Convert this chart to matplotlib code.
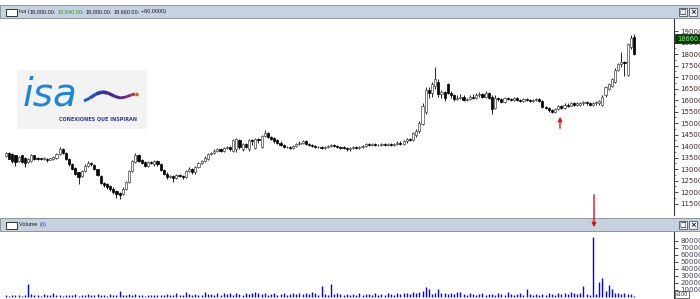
import matplotlib
matplotlib.use("Agg")
import matplotlib.pyplot as plt
from matplotlib.patches import Rectangle, FancyArrowPatch
from matplotlib.collections import LineCollection

# daily candles
opens = [13580, 13700, 13650, 13600, 13350, 13600, 13500, 13300, 13350, 13600,
         13500, 13460, 13420, 13450, 13400, 13420, 13500, 13650, 13880, 13700,
         13450, 13220, 13050, 12850, 12700, 12900, 13150, 13280, 13180, 13000,
         12700, 12400, 12350, 12250, 12150, 12050, 11950, 11900, 12150, 12450,
         12900, 13300, 13600, 13400, 13300, 13150, 13300, 13200, 13350, 13200,
         12950, 12800, 12650, 12700, 12600, 12750, 12700, 12650, 12900, 13000,
         12850, 13100, 13250, 13350, 13450, 13650, 13700, 13800, 13850, 13800,
         13900, 13950, 13800, 13850, 14250, 13850, 14100, 13850, 14250, 13900,
         14300, 13950, 14450, 14550, 14400, 14350, 14250, 14150, 14050, 13950,
         13950, 13900, 14000, 14100, 14150, 14200, 14100, 14050, 14000, 13950,
         13950, 13900, 13950, 14000, 14050, 14000, 13950, 13950, 13900, 13850,
         13900, 13950, 13900, 13950, 14000, 14100, 14050, 14100, 14050, 14050,
         14100, 14050, 14100, 14050, 14100, 14150, 14100, 14200, 14300, 14250,
         14500, 14650, 14950, 15500, 16450, 16300, 16600, 16800, 16250, 16350,
         16700, 16300, 16200, 16050, 16100, 16150, 16000, 16050, 16150, 16100,
         16200, 16250, 16150, 16300, 16150, 15650, 16100, 16050, 15900, 16100,
         16050, 16000, 16100, 16000, 15950, 16050, 16000, 15950, 16000, 16050,
         15950, 15700, 15650, 15550, 15500, 15600, 15750, 15650, 15800, 15750,
         15850, 15800, 15800, 15850, 15900, 15850, 15800, 15850, 15850, 15800,
         16200, 16500, 16600, 16800, 17300, 17550, 17650, 17100, 18300, 18750]

closes = [13680, 13450, 13350, 13300, 13520, 13300, 13250, 13450, 13600, 13450,
          13450, 13420, 13480, 13400, 13460, 13520, 13650, 13850, 13700, 13450,
          13200, 13000, 12800, 12650, 12900, 13150, 13250, 13200, 13000, 12750,
          12400, 12300, 12200, 12150, 12000, 11900, 11850, 12150, 12450, 12900,
          13350, 13600, 13350, 13250, 13150, 13300, 13250, 13350, 13200, 12950,
          12800, 12650, 12700, 12600, 12750, 12700, 12650, 12900, 13000, 12850,
          13100, 13250, 13350, 13500, 13650, 13700, 13800, 13850, 13800, 13900,
          13950, 13850, 14250, 14300, 13950, 14100, 13950, 14250, 14200, 14300,
          14250, 14450, 14550, 14400, 14300, 14200, 14150, 14050, 13950, 13950,
          13900, 14000, 14100, 14150, 14200, 14100, 14050, 14000, 13950, 13950,
          13900, 13950, 14000, 14050, 14000, 13950, 13900, 13900, 13850, 13900,
          13950, 13900, 13950, 14000, 14100, 14050, 14100, 14050, 14050, 14100,
          14050, 14100, 14050, 14100, 14150, 14100, 14200, 14300, 14250, 14550,
          14650, 15000, 15750, 16450, 16300, 16700, 16900, 16250, 16350, 16100,
          16300, 16200, 16050, 16100, 16150, 16000, 16050, 16150, 16100, 16200,
          16250, 16150, 16300, 16100, 15600, 16100, 16050, 15900, 16100, 16050,
          16000, 16100, 16000, 15950, 16050, 16000, 15950, 16000, 16050, 15950,
          15700, 15650, 15550, 15500, 15600, 15750, 15650, 15800, 15750, 15850,
          15800, 15850, 15850, 15900, 15850, 15800, 15850, 15900, 15950, 16150,
          16550, 16700, 16900, 17300, 17550, 17650, 17600, 18450, 18700, 18000]

highs = [13720, 13720, 13680, 13620, 13560, 13620, 13520, 13480, 13650, 13620,
         13520, 13480, 13520, 13480, 13500, 13560, 13700, 13950, 13900, 13720,
         13480, 13250, 13080, 12880, 12950, 13200, 13350, 13300, 13200, 13020,
         12750, 12450, 12400, 12300, 12200, 12100, 12000, 12200, 12500, 12950,
         13400, 13700, 13650, 13450, 13350, 13350, 13350, 13400, 13400, 13250,
         13000, 12850, 12750, 12750, 12800, 12800, 12750, 12950, 13100, 13050,
         13150, 13300, 13400, 13550, 13700, 13750, 13850, 13900, 13900, 13950,
         14000, 14000, 14300, 14350, 14300, 14150, 14150, 14300, 14300, 14350,
         14350, 14500, 14700, 14600, 14450, 14400, 14300, 14200, 14100, 14000,
         14000, 14050, 14150, 14200, 14250, 14250, 14150, 14100, 14050, 14000,
         14000, 14000, 14050, 14100, 14100, 14050, 14000, 14000, 13950, 13950,
         14000, 14000, 14000, 14050, 14150, 14150, 14150, 14150, 14100, 14150,
         14150, 14150, 14150, 14150, 14200, 14200, 14250, 14350, 14350, 14600,
         14750, 15100, 15850, 16550, 16550, 16800, 17450, 16900, 16450, 16400,
         16750, 16400, 16250, 16200, 16250, 16200, 16100, 16200, 16250, 16300,
         16350, 16300, 16400, 16350, 16200, 16200, 16150, 16100, 16150, 16150,
         16100, 16150, 16150, 16050, 16100, 16100, 16050, 16050, 16100, 16100,
         16000, 15750, 15700, 15600, 15650, 15800, 15800, 15850, 15850, 15900,
         15900, 15900, 15900, 15950, 15950, 15900, 15900, 15950, 16000, 16200,
         16600, 16750, 16950, 17400, 17600, 18100, 17700, 18500, 18840, 18850]

lows = [13540, 13420, 13250, 13150, 13300, 13250, 13100, 13250, 13300, 13400,
        13400, 13380, 13400, 13300, 13380, 13380, 13450, 13600, 13650, 13400,
        13150, 12950, 12750, 12350, 12650, 12850, 13100, 13150, 12950, 12700,
        12350, 12200, 12150, 12050, 11900, 11750, 11700, 11850, 12100, 12400,
        12850, 13250, 13300, 13200, 13100, 13100, 13200, 13150, 13150, 12900,
        12750, 12550, 12600, 12450, 12550, 12650, 12550, 12600, 12850, 12800,
        12800, 13050, 13200, 13300, 13400, 13600, 13650, 13750, 13750, 13750,
        13850, 13800, 13750, 13750, 13850, 13800, 13900, 13800, 14050, 13850,
        14150, 13900, 14400, 14350, 14250, 14150, 14100, 14000, 13900, 13900,
        13850, 13850, 13950, 14050, 14100, 14050, 14000, 13950, 13900, 13900,
        13850, 13850, 13900, 13950, 13950, 13900, 13850, 13850, 13800, 13800,
        13850, 13850, 13850, 13900, 13950, 14000, 14000, 14000, 14000, 14000,
        14000, 14000, 14000, 14000, 14050, 14050, 14050, 14150, 14200, 14200,
        14400, 14550, 14900, 15400, 16100, 16150, 16500, 16150, 16100, 15950,
        16250, 16100, 15950, 16000, 16050, 15950, 15950, 16000, 16050, 16050,
        16150, 16100, 16100, 16050, 15400, 15600, 15950, 15850, 15850, 16000,
        15950, 15950, 15950, 15900, 15900, 15950, 15900, 15900, 15950, 15900,
        15650, 15600, 15500, 15450, 15450, 15550, 15600, 15600, 15700, 15750,
        15750, 15750, 15750, 15800, 15800, 15750, 15750, 15800, 15800, 15750,
        16150, 16450, 16550, 16750, 17250, 17450, 17050, 17050, 18200, 17950]

volumes = [2500, 1800, 3000, 2200, 2800, 2000, 3200, 19000, 4000, 2500,
           3500, 2000, 4500, 2200, 3000, 5000, 2500, 3000, 2000, 2800,
           3200, 2500, 4000, 2000, 3500, 2800, 4000, 2200, 3000, 3800,
           2500, 3200, 2000, 4500, 2800, 3000, 9000, 3500, 2500, 4200,
           3000, 4000, 2500, 3200, 2000, 3500, 2800, 3000, 2200, 3000,
           2500, 3800, 2200, 3000, 5000, 3500, 2800, 7000, 4000, 3000,
           4500, 3500, 3000, 6500, 3800, 4200, 3000, 5000, 3500, 6000,
           4000, 5500, 3500, 5000, 4500, 3000, 5500, 4000, 5000, 6500,
           5000, 4500, 6000, 3500, 4000, 5500, 3000, 4500, 5000, 3500,
           4000, 5000, 4500, 5500, 4000, 6000, 4500, 7000, 5000, 3500,
           15000, 4000, 3500, 19000, 4500, 5000, 4000, 3500, 4500, 3000,
           4000, 3500, 5000, 3000, 4500, 4000, 3000, 5500, 3500, 4000,
           3500, 5000, 4000, 3000, 5500, 4500, 6000, 5000, 4000, 6500,
           5500, 7000, 9000, 14000, 12000, 4500, 5000, 12000, 5500, 6000,
           4500, 5000, 4000, 6500, 7000, 4000, 3500, 5000, 4500, 3500,
           4000, 5000, 3500, 4500, 4000, 3500, 5000, 4000, 3000, 7000,
           4500, 3500, 4000, 5000, 3500, 11000, 4000, 3500, 4500, 3000,
           4000, 3500, 5000, 4500, 3500, 5500, 4000, 6000, 4500, 6500,
           5500, 4500, 6000, 16000, 4000, 3500, 86000, 4000, 21000, 27000,
           8000, 17000, 12000, 5500, 5000, 4500, 5000, 4500, 4500, 2000]

price_ticks = [11500, 12000, 12500, 13000, 13500, 14000, 14500, 15000,
               15500, 16000, 16500, 17000, 17500, 18000, 18500, 19000]
vol_ticks = [10000, 20000, 30000, 40000, 50000, 60000, 70000, 80000]
last_price = 18660
title_parts = [("Isa (", "#1a1a2e"), ("18,000.00", "#1a1a2e"), (", ", "#1a1a2e"),
               ("18,840.00", "#2f9a2f"), (", ", "#1a1a2e"), ("18,000.00", "#1a1a2e"),
               (", ", "#1a1a2e"), ("18,660.00", "#1a1a2e"), (", +60.0000)", "#1a1a2e")]

W, H = 700, 299
fig = plt.figure(figsize=(7, 2.99), dpi=100)


def box(x0, y0, x1, y1):
    return [x0 / W, 1 - y1 / H, (x1 - x0) / W, (y1 - y0) / H]


def fx(x):
    return x / W


def fy(y):
    return 1 - y / H


idx = list(range(len(closes)))
xlim = (-1.9, 211.7)

# price panel
ax = fig.add_axes(box(0, 19, 674, 215))
ax.set_xlim(*xlim)
ax.set_ylim(11000, 19522)
ax.vlines(idx, lows, highs, color="black", lw=0.6, zorder=1)
up = [i for i in idx if closes[i] >= opens[i]]
dn = [i for i in idx if closes[i] < opens[i]]
ax.bar(up, [closes[i] - opens[i] for i in up], bottom=[opens[i] for i in up],
       width=0.68, color="white", edgecolor="#444444", linewidth=0.5, zorder=2)
ax.bar(dn, [opens[i] - closes[i] for i in dn], bottom=[closes[i] for i in dn],
       width=0.68, color="black", edgecolor="black", linewidth=0.5, zorder=2)
for s in ["top", "left", "bottom"]:
    ax.spines[s].set_visible(False)
ax.spines["right"].set_color("#333333")
ax.spines["right"].set_linewidth(0.8)
ax.set_xticks([])
ax.yaxis.tick_right()
ax.set_yticks(price_ticks)
ax.set_yticklabels([str(t) for t in price_ticks])
ax.set_yticks([t + 250 for t in price_ticks[:-1]], minor=True)
ax.tick_params(axis="y", which="major", direction="out", length=3, width=0.6,
               pad=1.5, labelsize=5, labelcolor="#4a2626", color="#333333")
ax.tick_params(axis="y", which="minor", direction="out", length=1.5, width=0.5,
               color="#333333")

# volume panel
vax = fig.add_axes(box(0, 232, 674, 298))
vax.set_xlim(*xlim)
vax.set_ylim(-1429, 92857)
vax.vlines(idx, 0, volumes, color="#0000ff", lw=1.0)
for s in ["top", "left", "bottom"]:
    vax.spines[s].set_visible(False)
vax.spines["right"].set_color("#333333")
vax.spines["right"].set_linewidth(0.8)
vax.set_xticks([])
vax.yaxis.tick_right()
vax.set_yticks(vol_ticks)
vax.set_yticklabels([str(t) for t in vol_ticks])
vax.tick_params(axis="y", direction="out", length=3, width=0.6, pad=1.5,
                labelsize=5, labelcolor="#3a3a6a", color="#333333")

# title bars
for y0, y1 in [(5, 18), (218, 231)]:
    fig.patches.append(Rectangle((0, fy(y1)), 1, (y1 - y0) / H, transform=fig.transFigure,
                                 facecolor="#c6d2de", edgecolor="#8c96a0", lw=0.7))
    fig.patches.append(Rectangle((fx(6), fy(y1 - 2)), 11 / W, 7 / H, transform=fig.transFigure,
                                 facecolor="white", edgecolor="#333333", lw=0.7))
    for bx, sym in [(679, "\u25a1"), (689, "\u00d7")]:
        fig.patches.append(Rectangle((fx(bx), fy(y1 - 2)), 8 / W, 8 / H, transform=fig.transFigure,
                                     facecolor="#eef0f4", edgecolor="#555555", lw=0.6))
        fig.text(fx(bx + 4), fy((y0 + y1) / 2 + 0.5), sym, fontsize=5, ha="center", va="center",
                 color="#111111", fontweight="bold")

r = fig.canvas.get_renderer()
x = fx(19)
for s, col in title_parts:
    t = fig.text(x, fy(11.5), s, fontsize=4, color=col, va="center", ha="left",
                 family="Liberation Sans")
    x += t.get_window_extent(renderer=r).width / W

t = fig.text(fx(19), fy(224.5), "Volume ", fontsize=4, color="#1a1a2e", va="center",
             ha="left", family="Liberation Sans")
fig.text(fx(19) + t.get_window_extent(renderer=r).width / W + 1 / W, fy(224.5), "(0)",
         fontsize=4, color="#3040d0", va="center", ha="left", family="Liberation Sans")

# last price marker
ly = 31 + (19000 - last_price) * 0.023
fig.text(fx(677), fy(ly), "%.2f" % last_price, fontsize=4.8, color="#7dff7d",
         va="center", ha="left",
         bbox=dict(boxstyle="square,pad=0.25", facecolor="#083a08", edgecolor="#1a1a1a", lw=0.5))

# multiplier box at the bottom of the volume scale
fig.text(fx(676), fy(294.5), "x100", fontsize=3.5, color="#222222", va="center", ha="left",
         bbox=dict(boxstyle="square,pad=0.2", facecolor="white", edgecolor="#333333", lw=0.5))

# red arrows
fig.add_artist(FancyArrowPatch((fx(560), fy(131)), (fx(560), fy(114)), transform=fig.transFigure,
                               arrowstyle="-|>", mutation_scale=6, color="#ee1111", lw=1.0,
                               zorder=20))
fig.add_artist(FancyArrowPatch((fx(594), fy(192)), (fx(594), fy(230)), transform=fig.transFigure,
                               arrowstyle="-|>", mutation_scale=6, color="#dd1111", lw=1.0,
                               zorder=20))

# logo
lax = fig.add_axes(box(17, 70, 147, 129))
lax.set_xlim(17, 147)
lax.set_ylim(129, 70)
lax.axis("off")
lax.add_patch(Rectangle((17, 70), 130, 59, facecolor="#f3f3f3", edgecolor="none"))
lax.text(23, 106, "isa", fontsize=28, style="italic", color="#1a86dc", va="baseline",
         ha="left", family="DejaVu Sans")
sx = [84, 90, 96, 102, 108, 114, 120, 126, 131, 135, 138]
sy = [101, 98, 94, 92, 93, 96, 98, 97, 95, 94, 94]
segs = [[(sx[i], sy[i]), (sx[i + 1], sy[i + 1])] for i in range(len(sx) - 1)]
scol = ["#1f5fc0", "#2a4bb0", "#3038a0", "#3a2f98", "#432a90", "#4e2a88", "#5a2a82",
        "#7a2c70", "#b03c40", "#e0561c"]
lax.add_collection(LineCollection(segs, colors=scol, linewidths=[2.2, 2.4, 2.6, 2.6, 2.4,
                                                                 2.2, 2.0, 2.0, 2.2, 2.4]))
lax.text(98, 119.5, "CONEXIONES QUE INSPIRAN", fontsize=3.5, color="#2b3990", va="center",
         ha="center", fontweight="bold")

fig.savefig("out.png", dpi=100, facecolor="white")
